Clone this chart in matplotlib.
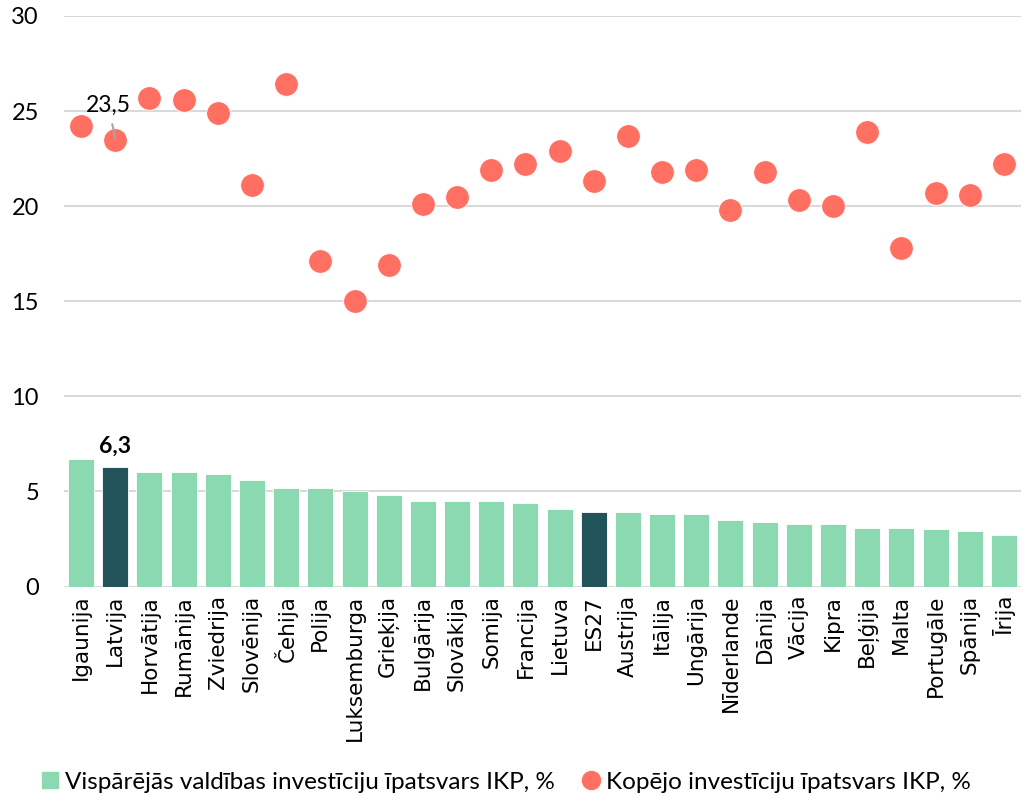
import numpy as np
import matplotlib.pyplot as plt

plt.rcParams['font.family'] = ['Lato', 'DejaVu Sans']

countries = ['Igaunija', 'Latvija', 'Horvātija', 'Rumānija', 'Zviedrija', 'Slovēnija', 'Čehija',
             'Polija', 'Luksemburga', 'Grieķija', 'Bulgārija', 'Slovākija', 'Somija', 'Francija',
             'Lietuva', 'ES27', 'Austrija', 'Itālija', 'Ungārija', 'Nīderlande', 'Dānija', 'Vācija',
             'Kipra', 'Beļģija', 'Malta', 'Portugāle', 'Spānija', 'Īrija']

# valdības investīcijas, % IKP
gov_inv = [6.7, 6.3, 6.0, 6.0, 5.9, 5.6, 5.2, 5.2, 5.0, 4.8, 4.5, 4.5, 4.5, 4.4,
           4.1, 3.9, 3.9, 3.8, 3.8, 3.5, 3.4, 3.3, 3.3, 3.1, 3.1, 3.0, 2.9, 2.7]

# kopējās investīcijas, % IKP
total_inv = [24.2, 23.5, 25.7, 25.6, 24.9, 21.1, 26.4, 17.1, 15.0, 16.9, 20.1, 20.5, 21.9, 22.2,
             22.9, 21.3, 23.7, 21.8, 21.9, 19.8, 21.8, 20.3, 20.0, 23.9, 17.8, 20.7, 20.6, 22.2]

highlight = ['Latvija', 'ES27']

light_green = '#8AD9B0'
dark_teal = '#23535A'
coral = '#FF7063'

fig = plt.figure(figsize=(10.23, 7.96), dpi=100)
ax = fig.add_axes([64 / 1023, 1 - 586.5 / 796, 957 / 1023, 570.5 / 796])

x = np.arange(len(countries))
colors = [dark_teal if c in highlight else light_green for c in countries]
bars = ax.bar(x, gov_inv, width=0.76, color=colors, edgecolor='white', linewidth=0.6, zorder=2)
dots = ax.scatter(x, total_inv, s=290, color=coral, edgecolor='white', linewidth=0.6, zorder=3)

ax.set_xlim(-0.5, len(countries) - 0.5)
ax.set_ylim(0, 30)
ax.set_yticks([0, 5, 10, 15, 20, 25, 30])
ax.yaxis.grid(True, color='#D9D9D9', linewidth=1.5, zorder=0)
ax.set_axisbelow(True)
for s in ax.spines.values():
    s.set_visible(False)
ax.tick_params(axis='both', length=0, colors='black')
ax.tick_params(axis='y', pad=18, labelsize=17)
ax.tick_params(axis='x', pad=6)
ax.set_xticks(x)
ax.set_xticklabels(countries, rotation=90, fontsize=15.5, family='DejaVu Sans')

# anotācijas Latvijai
lv = countries.index('Latvija')
ax.text(lv, gov_inv[lv] + 0.5, '6,3', ha='center', va='bottom', fontsize=16.5, fontweight='bold')
ax.annotate('23,5', xy=(lv, total_inv[lv] + 0.05), xytext=(lv - 0.2, total_inv[lv] + 1.8),
            ha='center', va='center', fontsize=16.5, zorder=5,
            arrowprops=dict(arrowstyle='-', color='#A6A6A6', lw=1.5, shrinkA=4, shrinkB=0))

# leģenda
h_bar = plt.Line2D([], [], marker='s', linestyle='none', markersize=11, color=light_green)
h_dot = plt.Line2D([], [], marker='o', linestyle='none', markersize=13, color=coral)
fig.legend([h_bar, h_dot],
           ['Vispārējās valdības investīciju īpatsvars IKP, %', 'Kopējo investīciju īpatsvars IKP, %'],
           loc='center', bbox_to_anchor=(0.492, 14 / 796), ncol=2, frameon=False,
           fontsize=17.5, handletextpad=0.0, columnspacing=0.9, handlelength=1.2)

fig.savefig('out.png', dpi=100)
